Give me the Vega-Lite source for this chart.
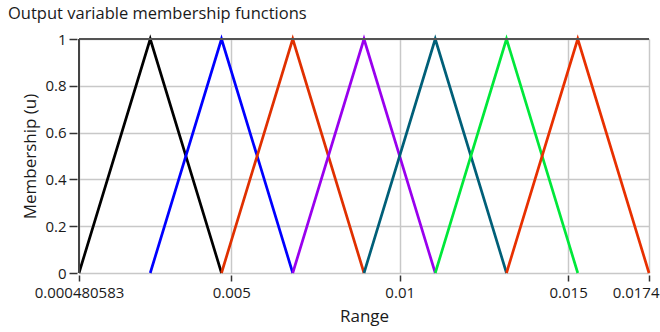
{
  "$schema": "https://vega.github.io/schema/vega-lite/v6.json",
  "width": 570,
  "height": 234,
  "autosize": "none",
  "padding": {"left": 79, "top": 39, "right": 11, "bottom": 59},
  "background": "white",
  "config": {
    "view": {"stroke": "#c8c8c8", "strokeWidth": 1},
    "font": "Open Sans"
  },
  "title": {
    "text": "Output variable membership functions",
    "anchor": "start",
    "frame": "group",
    "dx": -71,
    "offset": 10,
    "font": "Open Sans",
    "fontSize": 16.5,
    "fontWeight": "normal",
    "color": "#1a1a1a"
  },
  "data": {
    "values": [
      {"mf": "mf1", "x": 0.000480583, "u": 0},
      {"mf": "mf1", "x": 0.00259551, "u": 1},
      {"mf": "mf1", "x": 0.00471044, "u": 0},
      {"mf": "mf2", "x": 0.00259551, "u": 0},
      {"mf": "mf2", "x": 0.00471044, "u": 1},
      {"mf": "mf2", "x": 0.00682536, "u": 0},
      {"mf": "mf3", "x": 0.00471044, "u": 0},
      {"mf": "mf3", "x": 0.00682536, "u": 1},
      {"mf": "mf3", "x": 0.00894029, "u": 0},
      {"mf": "mf4", "x": 0.00682536, "u": 0},
      {"mf": "mf4", "x": 0.00894029, "u": 1},
      {"mf": "mf4", "x": 0.0110552, "u": 0},
      {"mf": "mf5", "x": 0.00894029, "u": 0},
      {"mf": "mf5", "x": 0.0110552, "u": 1},
      {"mf": "mf5", "x": 0.0131701, "u": 0},
      {"mf": "mf6", "x": 0.0110552, "u": 0},
      {"mf": "mf6", "x": 0.0131701, "u": 1},
      {"mf": "mf6", "x": 0.0152851, "u": 0},
      {"mf": "mf7", "x": 0.0131701, "u": 0},
      {"mf": "mf7", "x": 0.0152851, "u": 1},
      {"mf": "mf7", "x": 0.0174, "u": 0}
    ]
  },
  "layer": [
    {
      "mark": {"type": "line", "strokeWidth": 2.7, "clip": false},
      "encoding": {
        "x": {
          "field": "x",
          "type": "quantitative",
          "scale": {"domain": [0.000480583, 0.0174], "nice": false, "zero": false},
          "axis": {
            "title": "Range",
            "values": [0.000480583, 0.005, 0.01, 0.015, 0.0174],
            "labelExpr": "'' + datum.value",
            "labelAlign": {"expr": "datum.value > 0.017 ? 'right' : 'center'"},
            "labelOffset": {"expr": "datum.value > 0.017 ? 10 : 0"},
            "offset": 2,
            "domain": false,
            "tickSize": 6,
            "tickColor": "#333333",
            "tickWidth": 1.5,
            "labelPadding": 4,
            "labelFont": "Open Sans",
            "labelFontSize": 15,
            "labelColor": "#1a1a1a",
            "labelFlush": false,
            "labelOverlap": false,
            "titleFont": "Open Sans",
            "titleFontSize": 17,
            "titleFontWeight": "normal",
            "titleColor": "#1a1a1a",
            "titlePadding": 8,
            "grid": true,
            "gridColor": "#c8c8c8",
            "gridWidth": 1.5
          }
        },
        "y": {
          "field": "u",
          "type": "quantitative",
          "scale": {"domain": [0, 1], "nice": false},
          "axis": {
            "title": "Membership (u)",
            "values": [0, 0.2, 0.4, 0.6, 0.8, 1],
            "labelExpr": "'' + datum.value",
            "offset": 2,
            "domain": false,
            "tickSize": 8,
            "tickColor": "#333333",
            "tickWidth": 1.5,
            "labelPadding": 3,
            "labelFont": "Open Sans",
            "labelFontSize": 15,
            "labelColor": "#1a1a1a",
            "titleFont": "Open Sans",
            "titleFontSize": 17,
            "titleFontWeight": "normal",
            "titleColor": "#1a1a1a",
            "titlePadding": 5,
            "grid": true,
            "gridColor": "#c8c8c8",
            "gridWidth": 1.5
          }
        },
        "color": {
          "field": "mf",
          "type": "nominal",
          "scale": {
            "domain": ["mf1", "mf2", "mf3", "mf4", "mf5", "mf6", "mf7"],
            "range": ["#000000", "#0000ff", "#e03000", "#9900ee", "#005f78", "#00e83a", "#e83000"]
          },
          "legend": null
        }
      }
    },
    {
      "mark": {"type": "rule", "color": "#555555", "strokeWidth": 1.5},
      "encoding": {"y": {"datum": 1}}
    },
    {
      "mark": {"type": "rule", "color": "#444444", "strokeWidth": 1.5},
      "encoding": {"x": {"datum": 0.000480583}}
    }
  ]
}
